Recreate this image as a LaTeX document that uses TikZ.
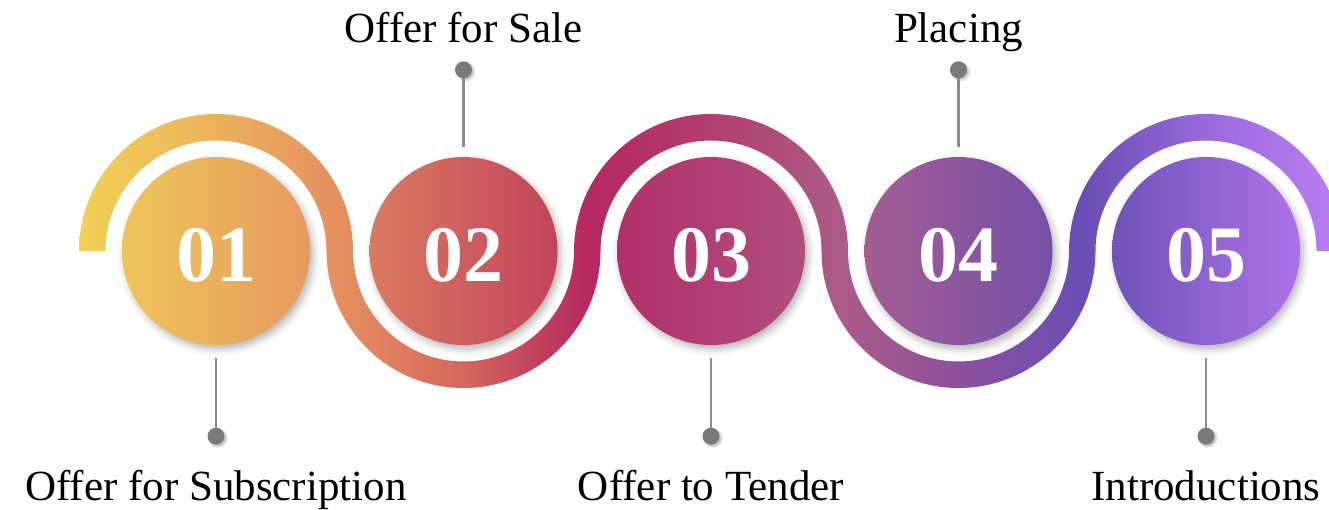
\documentclass[tikz,border=0pt]{standalone}
\usepackage{fontspec}
\setmainfont{Liberation Serif}
\usetikzlibrary{positioning,shadows.blur}
\definecolor{wa}{HTML}{F2D156}
\definecolor{wb}{HTML}{ECB25B}
\definecolor{wc}{HTML}{E58F5F}
\definecolor{wd}{HTML}{D4665E}
\definecolor{we}{HTML}{B52760}
\definecolor{wf}{HTML}{B13F6E}
\definecolor{wg}{HTML}{AC5B87}
\definecolor{wh}{HTML}{8B509E}
\definecolor{wi}{HTML}{6A4EB5}
\definecolor{wj}{HTML}{9A6ADC}
\definecolor{wk}{HTML}{BC7EF2}
\definecolor{onel}{HTML}{EEC55A}
\definecolor{oner}{HTML}{E69A5F}
\definecolor{twol}{HTML}{DA7A61}
\definecolor{twor}{HTML}{C2445B}
\definecolor{threel}{HTML}{B2306A}
\definecolor{threer}{HTML}{B04E7D}
\definecolor{fourl}{HTML}{A35D93}
\definecolor{fourr}{HTML}{7550A8}
\definecolor{fivel}{HTML}{6F53B9}
\definecolor{fiver}{HTML}{AE72E8}
\definecolor{pingray}{HTML}{7A7A7A}
\definecolor{linegray}{HTML}{8C8C8C}
\pgfdeclarehorizontalshading{waveshade}{100bp}{color(0bp)=(wa); color(25bp)=(wa); color(30.4bp)=(wb); color(35.3bp)=(wc); color(40.2bp)=(wd); color(45.2bp)=(we); color(50bp)=(wf); color(55.1bp)=(wg); color(59.8bp)=(wh); color(64.8bp)=(wi); color(69.6bp)=(wj); color(75bp)=(wk); color(100bp)=(wk)}
\tikzset{
  numcircle/.style = {circle, minimum size=188pt, inner sep=0pt, text=white, text height=62pt, text depth=0pt, font=\fontsize{80}{80}\selectfont\bfseries, blur shadow={shadow xshift=3pt, shadow yshift=-4pt, shadow blur radius=7pt, shadow opacity=30}},
  pindot/.style = {circle, fill=pingray, minimum size=17pt, inner sep=0pt, outer sep=0pt, blur shadow={shadow xshift=2pt, shadow yshift=-2pt, shadow blur radius=2pt, shadow opacity=25}},
  pinline/.style = {draw=linegray, line width=2.5pt},
  steplabel/.style = {font=\fontsize{43}{50}\selectfont, inner sep=0pt, outer sep=0pt},
}
\begin{document}
\begin{tikzpicture}[x=1pt, y=1pt]
\useasboundingbox (0,0) rectangle (1329,509);
% wave band
\shade[shading=waveshade] (79,258)
  arc[start angle=180, end angle=0, radius=137]
  arc[start angle=180, end angle=360, radius=110.5]
  arc[start angle=180, end angle=0, radius=137]
  arc[start angle=180, end angle=360, radius=110.5]
  arc[start angle=180, end angle=0, radius=137]
  -- (1316.5,258)
  arc[start angle=0, end angle=180, radius=110.5]
  arc[start angle=360, end angle=180, radius=137]
  arc[start angle=0, end angle=180, radius=110.5]
  arc[start angle=360, end angle=180, radius=137]
  arc[start angle=0, end angle=180, radius=110.5]
  -- cycle;
% step circles
\node[numcircle, left color=onel, right color=oner] (c1) at (216,258) {01};
\node[numcircle, left color=twol, right color=twor] (c2) at (463.5,258) {02};
\node[numcircle, left color=threel, right color=threer] (c3) at (711,258) {03};
\node[numcircle, left color=fourl, right color=fourr] (c4) at (958.5,258) {04};
\node[numcircle, left color=fivel, right color=fiver] (c5) at (1206,258) {05};
% pins
\node[pindot, below=82.5pt of c1] (d1) {};
\node[pindot, above=78.5pt of c2] (d2) {};
\node[pindot, below=82.5pt of c3] (d3) {};
\node[pindot, above=78.5pt of c4] (d4) {};
\node[pindot, below=82.5pt of c5] (d5) {};
\draw[pinline] ([yshift=-13pt]c1.south) -- (d1);
\draw[pinline] ([yshift=10pt]c2.north) -- (d2);
\draw[pinline] ([yshift=-13pt]c3.south) -- (d3);
\draw[pinline] ([yshift=10pt]c4.north) -- (d4);
\draw[pinline] ([yshift=-13pt]c5.south) -- (d5);
% labels
\node[steplabel, below=55.5pt of d1, anchor=base] (l1) {Offer for Subscription};
\node[steplabel, above=18.5pt of d2, anchor=base] (l2) {Offer for Sale};
\node[steplabel, below=55.5pt of d3, anchor=base] (l3) {Offer to Tender};
\node[steplabel, above=18.5pt of d4, anchor=base] (l4) {Placing};
\node[steplabel, below=55.5pt of d5, anchor=base] (l5) {Introductions};
\end{tikzpicture}
\end{document}
